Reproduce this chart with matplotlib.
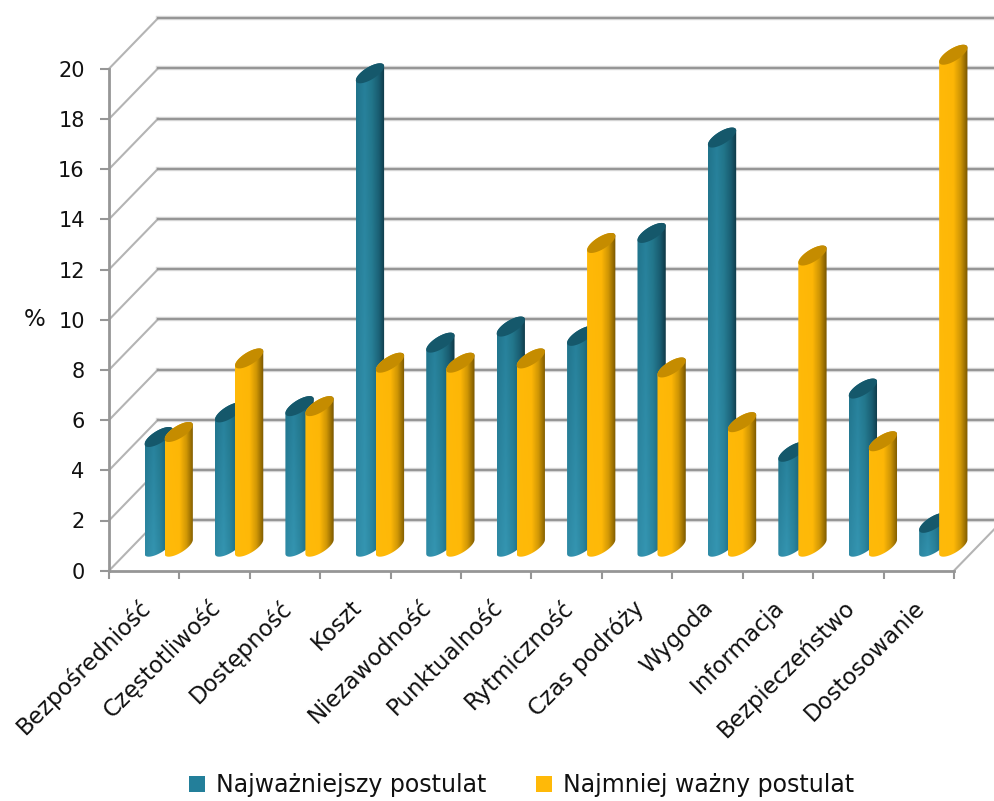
import numpy as np
import matplotlib
matplotlib.use("Agg")
import matplotlib.pyplot as plt
from matplotlib.patches import Polygon, Patch

categories = [
    "Bezpośredniość", "Częstotliwość", "Dostępność", "Koszt",
    "Niezawodność", "Punktualność", "Rytmiczność", "Czas podróży",
    "Wygoda", "Informacja", "Bezpieczeństwo", "Dostosowanie",
]
najwazniejszy = [4.37, 5.35, 5.6, 18.86, 8.13, 8.77, 8.4, 12.5, 16.3, 3.78, 6.3, 0.95]
najmniej = [4.57, 7.5, 5.6, 7.33, 7.33, 7.5, 12.1, 7.14, 4.96, 11.6, 4.2, 19.6]
yticks = list(range(0, 21, 2))
series_names = ["Najważniejszy postulat", "Najmniej ważny postulat"]

plt.rcParams["font.family"] = "DejaVu Sans"

GRID = "#969696"
GRID_SOFT = "#dcdcdc"
DIAG = "#b4b4b4"

fig = plt.figure(figsize=(9.95, 8.01), dpi=100)
# axes box is the front plane of the 3d box
ax = fig.add_axes([109 / 995, 1 - 570.7 / 801, 845 / 995, 502 / 801])
ax.set_facecolor("none")

sx = 12 / 845   # data per pixel, x
sy = 20 / 502   # data per pixel, y
depth_x = 49 * sx
depth_y = 50.5 * sy
bar_w = 20 * sx
bar_dx = 20 * sx
bar_dy = 20 * sy
base_y = 24 * sy


def hexrgb(h):
    return np.array(matplotlib.colors.to_rgb(h))


def side_image(stops_bottom, stops_top):
    # horizontal shading, a bit brighter near the floor
    xs = np.linspace(0, 1, 64)
    ys = np.linspace(0, 1, 32)
    pos = [s[0] for s in stops_bottom]
    img = np.zeros((len(ys), len(xs), 3))
    for ch in range(3):
        low = np.interp(xs, pos, [hexrgb(s[1])[ch] for s in stops_bottom])
        high = np.interp(xs, pos, [hexrgb(s[1])[ch] for s in stops_top])
        for j, yy in enumerate(ys):
            img[j, :, ch] = high + (low - high) * yy
    return img


blue_low = [(0, "#2f8ba6"), (0.3, "#3596b2"), (0.55, "#2c87a1"), (0.8, "#1f6a81"), (1, "#123f4e")]
blue_high = [(0, "#1f7188"), (0.3, "#267f99"), (0.55, "#217488"), (0.8, "#185a6e"), (1, "#0e3644")]
yellow_low = [(0, "#ffba0a"), (0.5, "#ffb908"), (0.75, "#d19806"), (1, "#7d5a00")]
yellow_high = [(0, "#ffb908"), (0.5, "#fdb606"), (0.75, "#cd9404"), (1, "#765400")]
styles = [
    (side_image(blue_low, blue_high), "#15586b"),
    (side_image(yellow_low, yellow_high), "#c58c00"),
]


def ellipse(cx, cy, t):
    return np.column_stack([
        cx + bar_w / 2 * np.cos(t) + bar_dx / 2 * np.sin(t),
        cy + bar_dy / 2 * np.sin(t),
    ])


def draw_bar(cx, value, style, z):
    img, top_col = style
    # screen-space extremes of the sheared ellipse
    w_px, d_px = bar_w / sx, bar_dx / sx
    t_r = np.arctan2(d_px, w_px)
    t_l = t_r + np.pi
    lower = np.linspace(t_l, t_r + 2 * np.pi, 40)
    upper = np.linspace(t_r, t_l, 40)
    outline = np.vstack([ellipse(cx, base_y, lower), ellipse(cx, base_y + value, upper)])
    half = np.hypot(w_px, d_px) / 2 * sx
    im = ax.imshow(img, extent=[cx - half, cx + half, base_y - bar_dy, base_y + value + bar_dy],
                   origin="upper", aspect="auto", zorder=z, interpolation="bilinear")
    im.set_clip_box(fig.bbox)
    im.set_clip_path(Polygon(outline, transform=ax.transData))
    cap = ellipse(cx, base_y + value, np.linspace(0, 2 * np.pi, 60))
    ax.add_patch(Polygon(cap, closed=True, fc=top_col, ec="none", zorder=z + 0.5, clip_on=False))


# back wall and side wall
for v in yticks:
    ax.plot([depth_x, 12 + depth_x + 1], [v + depth_y, v + depth_y], color=GRID_SOFT, lw=3.2, zorder=1, clip_on=False)
    ax.plot([depth_x, 12 + depth_x + 1], [v + depth_y, v + depth_y], color=GRID, lw=1.6, zorder=1.1, clip_on=False)
    ax.plot([0, depth_x], [v, v + depth_y], color=DIAG, lw=1.5, zorder=1, clip_on=False)
ax.plot([12, 12 + depth_x], [0, depth_y], color=DIAG, lw=1.5, zorder=1, clip_on=False)

for i in range(len(categories)):
    cx = i + 0.5 + depth_x / 2
    draw_bar(cx - bar_w / 2, najwazniejszy[i], styles[0], 10 + 2 * i)
    draw_bar(cx + bar_w / 2, najmniej[i], styles[1], 11 + 2 * i)

ax.set_xlim(0, 12)
ax.set_ylim(0, 20)
for side in ["top", "right"]:
    ax.spines[side].set_visible(False)
for side in ["left", "bottom"]:
    ax.spines[side].set_color(GRID)
    ax.spines[side].set_linewidth(2)
    ax.spines[side].set_zorder(2)

ax.set_yticks(yticks)
ax.set_xticks(range(13))
ax.set_xticklabels([])
# labels hang slightly left of the category centres
ax.set_xticks(np.arange(12) + 0.42, minor=True)
ax.set_xticklabels(categories, minor=True, rotation=45, ha="right", rotation_mode="anchor", fontsize=16.5, color="#111111")
ax.tick_params(axis="x", which="major", length=6, width=1.5, color=GRID)
ax.tick_params(axis="x", which="minor", length=0, pad=18)
ax.tick_params(axis="y", length=6.5, width=1.5, color=GRID, labelsize=15, pad=11, labelcolor="#111111")
ax.set_ylabel("%", rotation=0, fontsize=16.5, color="#111111", va="center", ha="center")
ax.yaxis.set_label_coords(-0.0876, 0.5)

handles = [Patch(fc="#237f9a", ec="none"), Patch(fc="#ffb908", ec="none")]
fig.legend(handles, series_names, loc="lower center", bbox_to_anchor=(0.524, -0.022), ncol=2, frameon=False,
           fontsize=17, handlelength=0.7, handleheight=0.7, handletextpad=0.45, columnspacing=2.1, labelcolor="#111111")

fig.savefig("out.png", dpi=100)
